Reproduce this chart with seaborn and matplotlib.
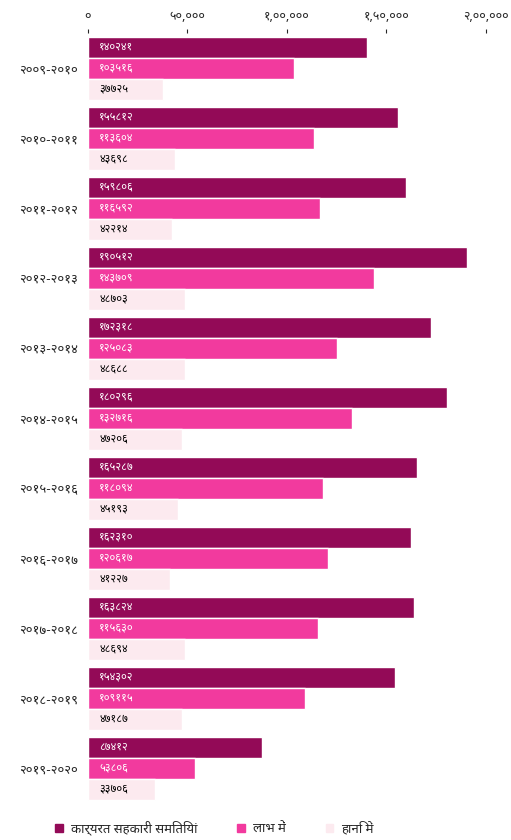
import matplotlib
matplotlib.use("Agg")
import matplotlib.pyplot as plt
import numpy as np
import pandas as pd
import seaborn as sns

# Years (top to bottom) and the three series
years = ["२००९-२०१०", "२०१०-२०११", "२०११-२०१२", "२०१२-२०१३", "२०१३-२०१४", "२०१४-२०१५",
         "२०१५-२०१६", "२०१६-२०१७", "२०१७-२०१८", "२०१८-२०१९", "२०१९-२०२०"]
total = [140241, 155812, 159806, 190512, 172318, 180296, 165287, 162310, 163824, 154302, 87412]
profit = [103516, 113604, 116592, 143709, 125083, 132716, 118094, 120617, 115630, 109115, 53806]
loss = [37725, 43698, 42214, 48703, 48688, 47206, 45193, 41227, 48694, 47187, 33706]
series_names = ["कार्यरत सहकारी समितियां", "लाभ में", "हानि में"]
colors = ["#930A57", "#F23A9E", "#FCEAEF"]
xticks = [0, 50000, 100000, 150000, 200000]
xtick_labels = ["०", "५०,०००", "१,००,०००", "१,५०,०००", "२,००,०००"]

dev = str.maketrans("0123456789", "०१२३४५६७८९")

df = pd.DataFrame({
    "year": years * 3,
    "value": total + profit + loss,
    "series": [series_names[0]] * len(years) + [series_names[1]] * len(years) + [series_names[2]] * len(years),
})

sns.set_style("white")
plt.rcParams["font.family"] = ["Noto Sans Devanagari", "Lohit Devanagari", "FreeSans", "Noto Sans", "DejaVu Sans"]

fig = plt.figure(figsize=(5.11, 8.40), dpi=100)
ax = fig.add_axes([0.172, 0.044, 0.779, 0.9167])
sns.barplot(data=df, y="year", x="value", hue="series", orient="h",
            palette=colors, width=0.9, gap=0, ax=ax, legend=False, saturation=1)

# value labels at the start of every bar
for i, cont in enumerate(ax.containers):
    for bar, v in zip(cont, cont.datavalues):
        ax.annotate(str(int(v)).translate(dev),
                    xy=(bar.get_x(), bar.get_y() + bar.get_height() / 2),
                    xytext=(8, 0), textcoords="offset points",
                    ha="left", va="center", fontsize=8,
                    color="white" if i < 2 else "black")

ax.set_xlim(0, 200000)
ax.set_xticks(xticks)
ax.set_xticklabels(xtick_labels, fontsize=9)
ax.xaxis.tick_top()
ax.tick_params(axis="x", length=3, pad=4, top=True, bottom=False)
ax.tick_params(axis="y", length=0, pad=7, labelsize=9.5)
ax.set_xlabel("")
ax.set_ylabel("")
sns.despine(ax=ax, left=True, bottom=True, top=True, right=True)

handles = [plt.Rectangle((0, 0), 1, 1, color=c) for c in colors]
fig.legend(handles, series_names, loc="center", bbox_to_anchor=(0.42, 0.014), ncol=3,
           frameon=False, fontsize=9.5, handlelength=0.6,
           handleheight=0.6, columnspacing=3.0, handletextpad=0.6)

fig.savefig("out.png", dpi=100)
